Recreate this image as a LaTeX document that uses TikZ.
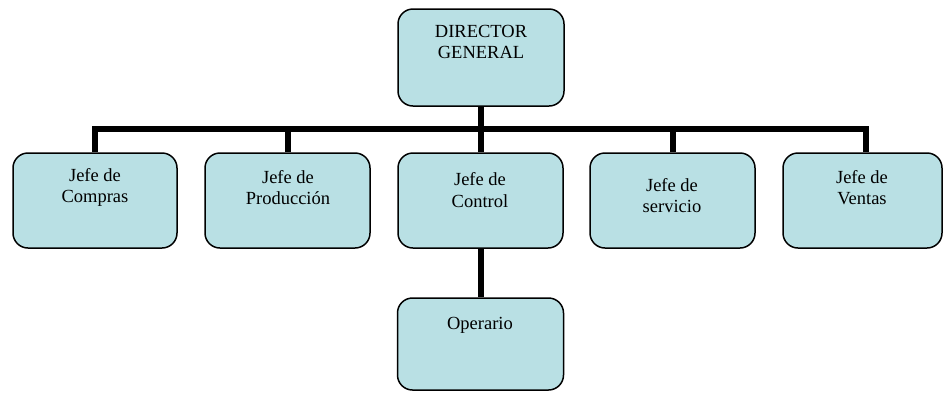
\documentclass[tikz,border=0pt]{standalone}
\usepackage{fontspec}
\setmainfont{Liberation Serif}
\usetikzlibrary{backgrounds}
\definecolor{boxfill}{RGB}{185,224,228}
\tikzset{
  orgbox/.style={draw=black, line width=1.5pt, fill=boxfill, rounded corners=15pt, inner sep=0pt},
  orgtext/.style={align=center, inner sep=0pt, font=\fontsize{18.5}{21.5}\selectfont},
  conn/.style={draw=black, line width=6pt, line join=miter}
}
\begin{document}
\begin{tikzpicture}[x=1pt,y=-1pt]
\useasboundingbox (0,0) rectangle (944,392);
% boxes
\node[orgbox, minimum width=166pt, minimum height=97pt] (dg) at (481,57.5) {};
\node[orgbox, minimum width=164pt, minimum height=95pt] (compras) at (95,200.5) {};
\node[orgbox, minimum width=165pt, minimum height=95pt] (prod) at (287.5,200.5) {};
\node[orgbox, minimum width=165pt, minimum height=95pt] (control) at (480.5,200.5) {};
\node[orgbox, minimum width=165pt, minimum height=95pt] (serv) at (672.5,200.5) {};
\node[orgbox, minimum width=159pt, minimum height=95pt] (ventas) at (862.5,200.5) {};
\node[orgbox, minimum width=166pt, minimum height=92pt] (oper) at (480.5,344) {};
\coordinate (bus) at (0,129);
% connectors
\begin{scope}[on background layer]
\draw[conn] (compras.north) -- (compras.north |- bus) -- ([xshift=3pt]ventas.north |- bus) -- ([xshift=3pt]ventas.north);
\draw[conn] (dg.south) -- (dg.south |- bus);
\draw[conn] (prod.north) -- (prod.north |- bus);
\draw[conn] (control.north) -- (control.north |- bus);
\draw[conn] (serv.north) -- (serv.north |- bus);
\draw[conn] (control.south) -- (oper.north);
\end{scope}
% texts
\node[orgtext] (tdg) at (481,42) {DIRECTOR\\GENERAL};
\node[orgtext] (tcompras) at (95,187.5) {Jefe de\\Compras};
\node[orgtext] (tprod) at (288,187.5) {Jefe de\\Producción};
\node[orgtext] (tcontrol) at (480,190) {Jefe de\\Control};
\node[orgtext] (tserv) at (672,195.5) {Jefe de\\servicio};
\node[orgtext] (tventas) at (862,187.5) {Jefe de\\Ventas};
\node[orgtext] (toper) at (480,325) {Operario};
\end{tikzpicture}
\end{document}
